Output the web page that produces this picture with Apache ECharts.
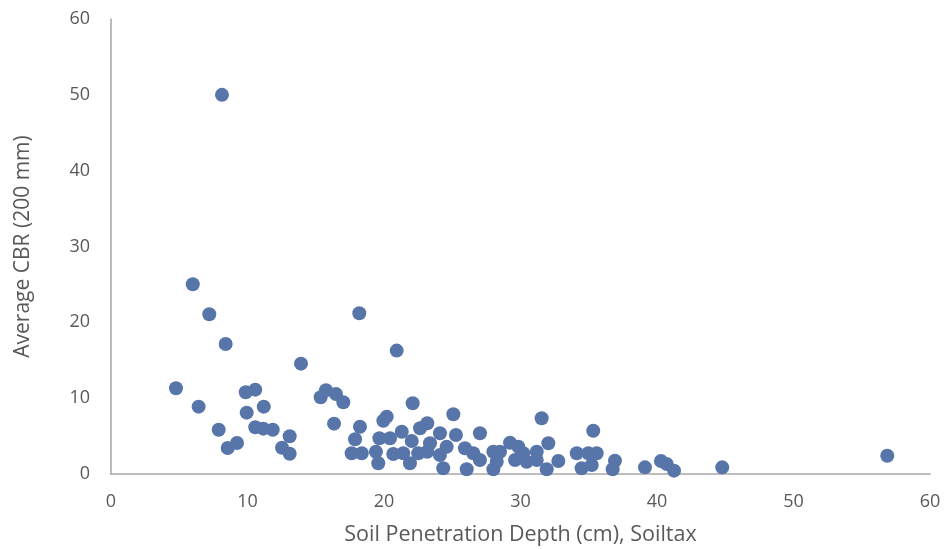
<!DOCTYPE html>
<html>
<head>
<meta charset="utf-8">
<script src="https://cdn.jsdelivr.net/npm/echarts@6/dist/echarts.min.js"></script>
<style>html,body{margin:0;padding:0;background:#fff}#c{width:944px;height:549px}</style>
</head>
<body>
<div id="c"></div>
<script>
const xTicks = [0, 10, 20, 30, 40, 50, 60];
const yTicks = [0, 10, 20, 30, 40, 50, 60];
const depth = [8.13,5.99,7.20,8.40,4.76,6.42,7.89,8.55,9.23,9.87,10.57,9.94,11.19,10.57,11.16,11.85,12.53,13.09,13.09,13.92,
15.36,15.75,16.48,17.02,16.34,18.19,20.93,22.10,20.20,19.95,25.08,18.24,17.88,19.66,20.44,21.30,22.03,22.64,23.17,24.10,
17.63,18.37,19.41,19.58,20.68,21.41,21.90,22.51,23.17,23.37,24.10,24.34,24.59,25.27,27.03,25.93,26.54,27.03,26.06,28.01,
28.50,28.01,28.26,29.23,29.84,30.20,29.60,30.45,31.19,31.19,32.04,31.92,31.55,35.33,32.77,34.12,34.97,35.58,34.48,35.22,
36.92,36.75,39.12,40.29,40.71,41.25,44.78,56.87];
const cbr = [50.0,25.03,21.07,17.15,11.31,8.88,5.84,3.43,4.09,10.78,11.12,8.09,8.88,6.16,5.98,5.84,3.47,4.97,2.68,14.55,
10.12,11.04,10.55,9.46,6.64,21.2,16.27,9.33,7.56,7.03,7.88,6.24,4.58,4.71,4.71,5.58,4.35,6.03,6.69,5.37,
2.73,2.73,2.94,1.41,2.64,2.73,1.41,2.73,2.94,4.05,2.51,0.75,3.60,5.15,5.37,3.39,2.73,1.85,0.62,2.94,
2.94,0.62,1.62,4.13,3.60,2.73,1.85,1.62,2.94,1.85,4.05,0.62,7.35,5.71,1.72,2.73,2.73,2.73,0.75,1.19,
1.75,0.62,0.88,1.72,1.32,0.44,0.88,2.41];

const points = depth.map((d, i) => [d, cbr[i]]);
const chart = echarts.init(document.getElementById('c'));
const font = '"Open Sans", "Noto Sans", sans-serif';
chart.setOption({
  animation: false,
  grid: { left: 111, right: 14, top: 19, bottom: 75, containLabel: false, outerBoundsMode: 'none' },
  xAxis: {
    type: 'value', min: xTicks[0], max: xTicks[xTicks.length - 1], interval: 10,
    name: 'Soil Penetration Depth (cm), Soiltax', nameLocation: 'middle', nameGap: 50,
    nameTextStyle: { color: '#595959', fontSize: 21.5, fontFamily: font },
    axisLine: { show: true, lineStyle: { color: '#A6A6A6', width: 1.5 } },
    axisTick: { show: false },
    splitLine: { show: false },
    axisLabel: { color: '#595959', fontSize: 18, fontFamily: font, margin: 19 }
  },
  yAxis: {
    type: 'value', min: yTicks[0], max: yTicks[yTicks.length - 1], interval: 10,
    name: 'Average CBR (200 mm)', nameLocation: 'middle', nameGap: 77,
    nameTextStyle: { color: '#595959', fontSize: 21, fontFamily: font },
    axisLine: { show: true, lineStyle: { color: '#A6A6A6', width: 1.5 } },
    axisTick: { show: false },
    splitLine: { show: false },
    axisLabel: { color: '#595959', fontSize: 18, fontFamily: font, margin: 21 }
  },
  series: [{
    type: 'scatter',
    data: points,
    symbolSize: 14,
    itemStyle: { color: '#5875AA', opacity: 1 }
  }]
});
</script>
</body>
</html>
